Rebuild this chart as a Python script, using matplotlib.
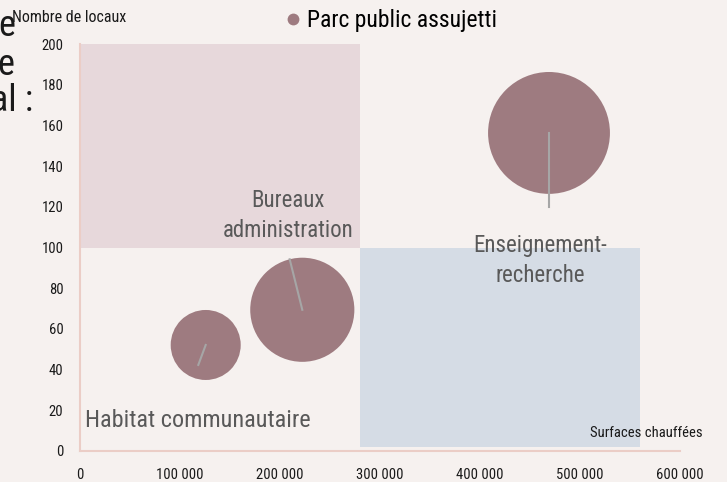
import matplotlib.pyplot as plt
from matplotlib.lines import Line2D

FONT = ['Roboto Condensed', 'Liberation Sans Narrow', 'DejaVu Sans']
plt.rcParams['font.family'] = FONT

# bubbles: heated surface (m2), number of premises, bubble size (relative)
surfaces = [125700, 222300, 469000]
locaux = [52.1, 69.4, 156.3]
tailles = [33, 73, 100]

# background zones: (x start, x end, y start, y end)
zone_bureaux = [0, 280000, 100, 200]
zone_enseignement = [280000, 560000, 2, 100]

x_ticks = [0, 100000, 200000, 300000, 400000, 500000, 600000]
y_ticks = [0, 20, 40, 60, 80, 100, 120, 140, 160, 180, 200]

bg = '#f6f1ef'
bubble_col = '#9e7b80'
txt_col = '#595959'

fig = plt.figure(figsize=(7.27, 4.82), dpi=100)
fig.patch.set_facecolor(bg)
W, H = 727, 482
ax = fig.add_axes([80 / W, (H - 451) / H, 600 / W, 407 / H])
ax.set_facecolor(bg)

# zones
ax.fill_between(zone_bureaux[:2], zone_bureaux[2], zone_bureaux[3],
                color='#e7d8db', lw=0, zorder=1)
ax.fill_between(zone_enseignement[:2], zone_enseignement[2], zone_enseignement[3],
                color='#d5dce5', lw=0, zorder=1)

# bubbles
max_s = 7700
sizes = [t / max(tailles) * max_s for t in tailles]
ax.scatter(surfaces, locaux, s=sizes, color=bubble_col, lw=0, zorder=3)

# leader lines (label connectors)
offsets = [(-7400, -9.8), (-12600, 24.8), (0, -36.4)]
for x, y, (dx, dy) in zip(surfaces, locaux, offsets):
    ax.plot([x, x + dx], [y, y + dy], color='#a6a6a6', lw=1.5, zorder=4)

# zone labels
ax.text(208000, 115.8, 'Bureaux\nadministration', ha='center', va='center',
        fontsize=16.5, color=txt_col, linespacing=1.4, zorder=5)
ax.text(460000, 93.5, 'Enseignement-\nrecherche', ha='center', va='center',
        fontsize=16.5, color=txt_col, linespacing=1.4, zorder=5)
ax.text(5000, 15, 'Habitat communautaire', ha='left', va='center',
        fontsize=17.5, color=txt_col, zorder=5)

ax.set_xlim(0, 600000)
ax.set_ylim(0, 200)
ax.set_xticks(x_ticks)
ax.set_xticklabels([f'{v:,}'.replace(',', ' ') for v in x_ticks])
ax.set_yticks(y_ticks)
ax.tick_params(length=0, labelsize=10.5, colors='#1a1a1a')
ax.tick_params(axis='x', pad=12)
ax.tick_params(axis='y', pad=12)

for s in ['top', 'right']:
    ax.spines[s].set_visible(False)
for s in ['left', 'bottom']:
    ax.spines[s].set_color('#ebcdc6')
    ax.spines[s].set_linewidth(1.5)

# axis titles
fig.text(12 / W, 1 - 17 / H, 'Nombre de locaux', ha='left', va='center',
         fontsize=11.5, color='#1a1a1a')
fig.text(703 / W, 1 - 433 / H, 'Surfaces chauffées', ha='right', va='center',
         fontsize=10.5, color='#1a1a1a')

# legend
handle = Line2D([], [], marker='o', ls='', color=bubble_col, markersize=8.5,
                markeredgewidth=0)
ax.legend([handle], ['Parc public assujetti'], loc='center',
          bbox_to_anchor=(390 / W, 1 - 21 / H), bbox_transform=fig.transFigure,
          frameon=False, fontsize=17, handlelength=0.8, handletextpad=0.2,
          borderpad=0)

# title cut off by the left edge
fig.text(15 / W, 1 - 26 / H, 'e', ha='right', va='center', fontsize=26,
         color='#1a1a1a')
fig.text(14 / W, 1 - 65 / H, 'e', ha='right', va='center', fontsize=26,
         color='#1a1a1a')
fig.text(33 / W, 1 - 101 / H, 'al :', ha='right', va='center', fontsize=26,
         color='#1a1a1a')

fig.savefig('out.png', dpi=100, facecolor=bg)
